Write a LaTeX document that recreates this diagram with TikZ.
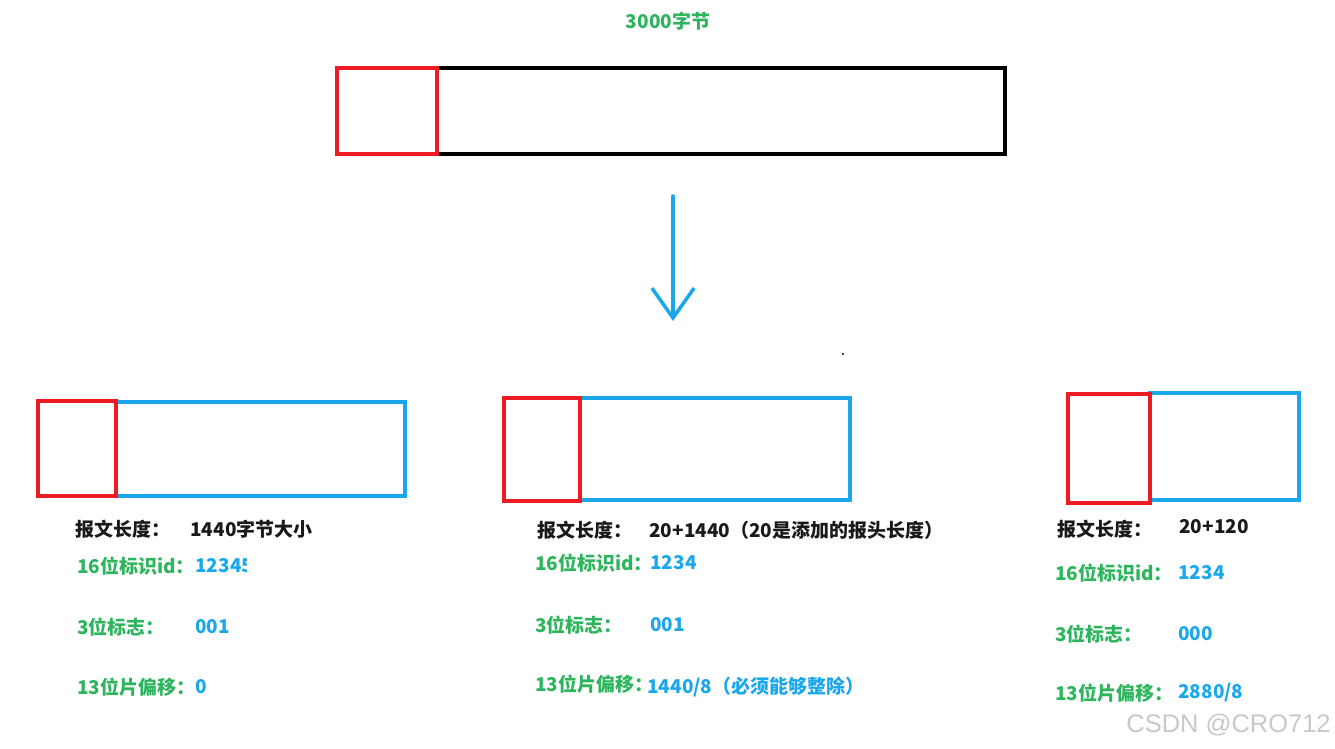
\documentclass[tikz,border=0pt]{standalone}
\usepackage{fontspec}
\setmainfont{Noto Sans CJK SC}
\newfontfamily\markfont{Liberation Sans}
\usepackage{xcolor}
\usepackage{tikz}
\usetikzlibrary{arrows.meta, positioning}

\definecolor{pktred}{HTML}{ED1C24}
\definecolor{pktblue}{HTML}{1AA7EC}
\definecolor{pktgreen}{HTML}{2DB55D}
\definecolor{pktgray}{HTML}{C8C8C8}

\begin{document}
\begin{tikzpicture}[x=0.02cm, y=-0.02cm,
    red box/.style={draw=pktred, line width=2pt},
    body box/.style={draw=pktblue, line width=2pt},
    txt/.style={anchor=west, inner sep=0pt, font=\fontsize{10.8}{12}\selectfont\bfseries},
    key/.style={txt, text=pktgreen},
    val/.style={txt, text=pktblue},
    len/.style={txt, text=black!90}]
    \useasboundingbox (0,0) rectangle (1335,749);

    % 原始报文 3000字节
    \node[txt, anchor=center, text=pktgreen] (total) at (668,21) {3000字节};
    \draw[line width=2pt] (337,68) rectangle (1005,154);
    \draw[red box] (337,68) rectangle (437,154);

    % 分片箭头
    \coordinate (src) at (673,196);
    \coordinate (dst) at (673,321);
    \draw[pktblue, line width=2pt, line cap=round, -{Straight Barb[length=17pt, width=24pt, line width=2pt]}] (src) -- (dst);
    \fill[black!70] (842,353) rectangle (844,355);

    % 第一片
    \draw[body box] (116,402) rectangle (405,496);
    \draw[red box] (38,401) rectangle (116,496);
    \node[len] (l1k) at (75,529) {报文长度：};
    \node[len] (l1v) at (190,529) {1440字节大小};
    \node[key] (i1k) at (77,566) {16位标识id：};
    \begin{scope}
        \clip (190,550) rectangle (246,585);
        \node[val] (i1v) at (195,566) {12345};
    \end{scope}
    \node[key] (f1k) at (77,627) {3位标志：};
    \node[val] (f1v) at (195,627) {001};
    \node[key] (o1k) at (77,687) {13位片偏移：};
    \node[val] (o1v) at (195,687) {0};

    % 第二片
    \draw[body box] (580,398) rectangle (850,500);
    \draw[red box] (504,398) rectangle (580,501);
    \node[len] (l2k) at (537,530) {报文长度：};
    \node[len] (l2v) at (649,530) {20+1440（20是添加的报头长度）};
    \node[key] (i2k) at (535,563) {16位标识id：};
    \node[val] (i2v) at (650,563) {1234};
    \node[key] (f2k) at (535,625) {3位标志：};
    \node[val] (f2v) at (650,625) {001};
    \node[key] (o2k) at (535,684) {13位片偏移：};
    \node[val] (o2v) at (647,687) {1440/8（必须能够整除）};

    % 第三片
    \draw[body box] (1150,393) rectangle (1299,500);
    \draw[red box] (1068,394) rectangle (1150,503);
    \node[len] (l3k) at (1057,529) {报文长度：};
    \node[len] (l3v) at (1179,527) {20+120};
    \node[key] (i3k) at (1055,573) {16位标识id：};
    \node[val] (i3v) at (1178,573) {1234};
    \node[key] (f3k) at (1055,634) {3位标志：};
    \node[val] (f3v) at (1178,634) {000};
    \node[key] (o3k) at (1055,693) {13位片偏移：};
    \node[val] (o3v) at (1178,693) {2880/8};

    % 水印
    \node[anchor=east, inner sep=0pt, text=pktgray, font=\markfont\fontsize{14.5}{16}\selectfont] (mark) at (1331,725) {CSDN @CRO712};
\end{tikzpicture}
\end{document}
